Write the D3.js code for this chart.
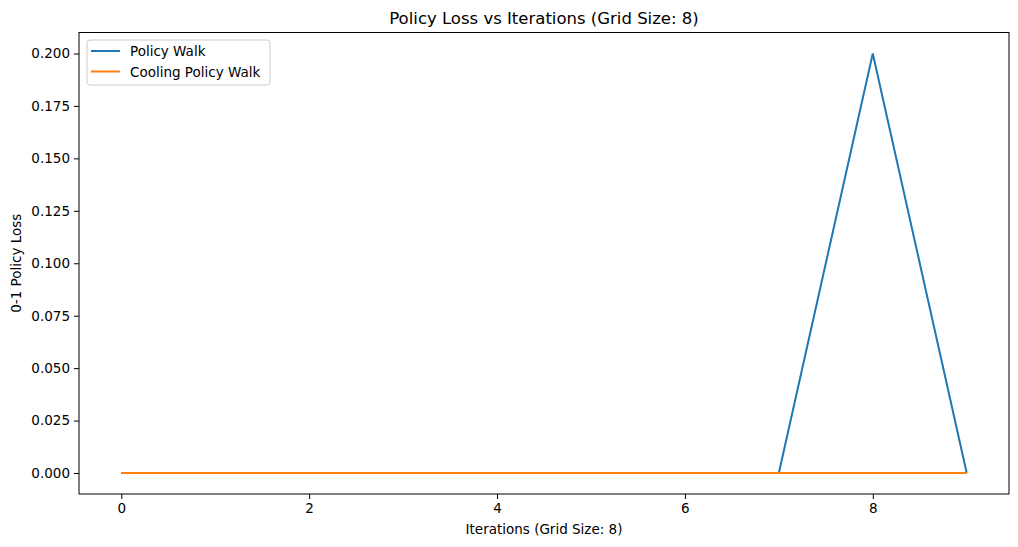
<!DOCTYPE html>
<html>
<head>
  <script src="https://d3js.org/d3.v7.min.js"></script>
  <style>
    body { margin: 0; background: #fff; }
    svg { font-family: "DejaVu Sans", sans-serif; }
  </style>
</head>
<body>
  <svg width="1018" height="547"></svg>
  <script>
    // iterations and losses
    var iterations = [0, 1, 2, 3, 4, 5, 6, 7, 8, 9];
    var policyWalk = [0, 0, 0, 0, 0, 0, 0, 0, 0.2, 0];
    var coolingWalk = [0, 0, 0, 0, 0, 0, 0, 0, 0, 0];
    var xTicks = [0, 2, 4, 6, 8];
    var yTicks = [0, 0.025, 0.05, 0.075, 0.1, 0.125, 0.15, 0.175, 0.2];

    var series = [
      { name: "Policy Walk", values: policyWalk, color: "#1f77b4" },
      { name: "Cooling Policy Walk", values: coolingWalk, color: "#ff7f0e" }
    ];

    // plot box (note: "top" is a reserved window prop, so use other names)
    var plotL = 79, plotR = 1009, plotT = 32.5, plotB = 494;
    var svg = d3.select("svg");

    var x = d3.scaleLinear().domain([-0.45, 9.45]).range([plotL, plotR]);
    var y = d3.scaleLinear().domain([-0.01, 0.21]).range([plotB, plotT]);

    var line = d3.line()
      .x(function(d, i) { return x(iterations[i]); })
      .y(function(d) { return y(d); });

    series.forEach(function(s) {
      svg.append("path")
        .attr("d", line(s.values))
        .attr("fill", "none")
        .attr("stroke", s.color)
        .attr("stroke-width", 2);
    });

    // axes
    var xAxis = svg.append("g")
      .attr("transform", "translate(0," + plotB + ")")
      .call(d3.axisBottom(x).tickValues(xTicks).tickFormat(d3.format("d")).tickSize(5).tickPadding(4));
    var yAxis = svg.append("g")
      .attr("transform", "translate(" + plotL + ",0)")
      .call(d3.axisLeft(y).tickValues(yTicks).tickFormat(d3.format(".3f")).tickSize(5).tickPadding(4));

    [xAxis, yAxis].forEach(function(g) {
      g.select(".domain").remove();
      g.selectAll("line").attr("stroke", "#000").attr("stroke-width", 1);
      g.selectAll("text").attr("font-size", 13.5).attr("fill", "#000")
        .attr("font-family", "DejaVu Sans, sans-serif");
    });

    svg.append("rect")
      .attr("x", plotL).attr("y", plotT)
      .attr("width", plotR - plotL).attr("height", plotB - plotT)
      .attr("fill", "none").attr("stroke", "#000").attr("stroke-width", 1);

    // labels
    svg.append("text")
      .attr("x", (plotL + plotR) / 2).attr("y", 24)
      .attr("text-anchor", "middle").attr("font-size", 16.5)
      .text("Policy Loss vs Iterations (Grid Size: 8)");
    svg.append("text")
      .attr("x", (plotL + plotR) / 2).attr("y", 534)
      .attr("text-anchor", "middle").attr("font-size", 13.5)
      .text("Iterations (Grid Size: 8)");
    svg.append("text")
      .attr("transform", "translate(21," + ((plotT + plotB) / 2) + ") rotate(-90)")
      .attr("text-anchor", "middle").attr("font-size", 13.5)
      .text("0-1 Policy Loss");

    // legend
    var legend = svg.append("g").attr("transform", "translate(87,40)");
    legend.append("rect")
      .attr("width", 183).attr("height", 45).attr("rx", 3)
      .attr("fill", "#fff").attr("fill-opacity", 0.8)
      .attr("stroke", "#ccc");
    series.forEach(function(s, i) {
      var row = legend.append("g").attr("transform", "translate(0," + (11 + i * 20.5) + ")");
      row.append("line").attr("x1", 4).attr("x2", 33).attr("y1", 0).attr("y2", 0)
        .attr("stroke", s.color).attr("stroke-width", 2);
      row.append("text").attr("x", 43).attr("y", 5).attr("font-size", 13.5).text(s.name);
    });
  </script>
</body>
</html>
